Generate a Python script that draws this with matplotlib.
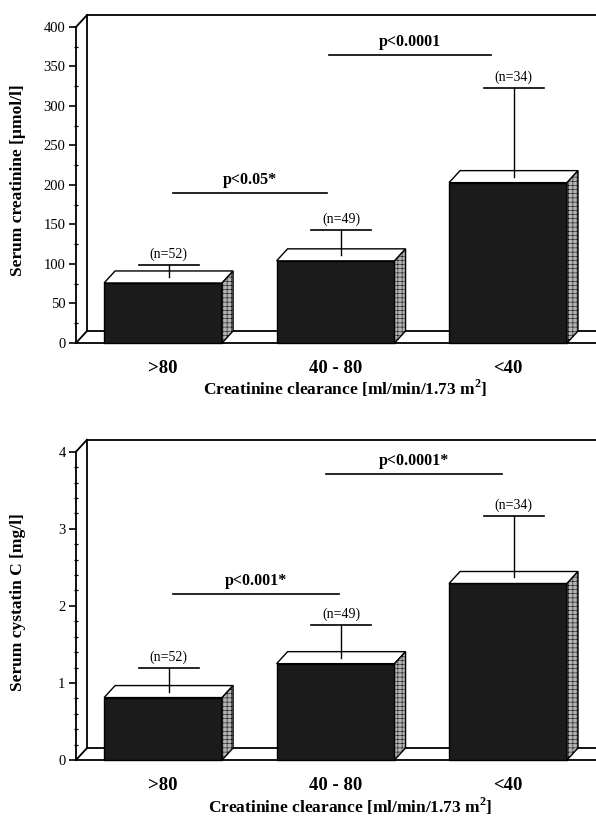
import matplotlib
matplotlib.use("Agg")
import matplotlib.pyplot as plt
from matplotlib.patches import Polygon, Rectangle
from matplotlib.ticker import MultipleLocator

# ---------------------------------------------------------------------------
# Data
# ---------------------------------------------------------------------------

groups = [">80", "40 - 80", "<40"]
n_counts = [52, 49, 34]

creat_mean = [76, 104, 203]
creat_sd = [23, 39, 120]
creat_p_text = ["p<0.05*", "p<0.0001"]
creat_p_y = [190, 365]
creat_p_span = [(0.06, 0.95), (0.96, 1.90)]

cyst_mean = [0.81, 1.25, 2.29]
cyst_sd = [0.38, 0.50, 0.88]
cyst_p_text = ["p<0.001*", "p<0.0001*"]
cyst_p_y = [2.16, 3.71]
cyst_p_span = [(0.06, 1.02), (0.945, 1.965)]

XLABEL = "Creatinine clearance [ml/min/1.73 m$^\\mathbf{2}$]"

plt.rcParams["font.family"] = ["Liberation Serif", "DejaVu Serif"]
plt.rcParams["mathtext.fontset"] = "custom"
plt.rcParams["mathtext.bf"] = "Liberation Serif:bold"
plt.rcParams["hatch.linewidth"] = 0.35

BAR_W = 0.684
CAP = 0.174
X_LEFT, X_RIGHT = -0.505, 2.51


def depth(ax, px=11, py=12):
    """Pixel offset of the 3-D depth, expressed in data units."""
    t = ax.transData
    x0, y0 = t.transform((0, 0))
    return t.inverted().transform((x0 + px, y0 + py))


def draw_panel(ax, means, sds, ymax, major, minor, ylabel, p_text, p_y, p_span, label_y):
    ax.set_xlim(X_LEFT, X_RIGHT)
    ax.set_ylim(0, ymax)
    ddx, ddy = depth(ax)
    kw = dict(color="black", lw=1.3, clip_on=False, zorder=2)

    # box walls and floor
    ax.plot([X_LEFT, X_LEFT + ddx], [ymax, ymax + ddy], **kw)
    ax.plot([X_LEFT + ddx, X_LEFT + ddx], [ddy, ymax + ddy], **kw)
    ax.plot([X_LEFT + ddx, X_RIGHT], [ymax + ddy, ymax + ddy], **kw)
    ax.plot([X_LEFT, X_RIGHT], [0, 0], **kw)
    ax.plot([X_LEFT, X_LEFT + ddx], [0, ddy], **kw)
    ax.plot([X_LEFT + ddx, X_RIGHT], [ddy, ddy], **kw)

    for i, (m, sd, n) in enumerate(zip(means, sds, n_counts)):
        x0, x1 = i - BAR_W / 2, i + BAR_W / 2
        ax.add_patch(Rectangle((x0, 0), BAR_W, m, fc="#1b1b1b", ec="black",
                               lw=1.0, zorder=3, clip_on=False))
        ax.add_patch(Polygon([(x0, m), (x1, m), (x1 + ddx, m + ddy), (x0 + ddx, m + ddy)],
                             closed=True, fc="white", ec="black", lw=1.0, zorder=3,
                             clip_on=False))
        ax.add_patch(Polygon([(x1, 0), (x1 + ddx, ddy), (x1 + ddx, m + ddy), (x1, m)],
                             closed=True, fc="#b4b4b4", ec="black", hatch="++++",
                             lw=1.0, zorder=3, clip_on=False))
        cx = i + ddx / 2
        top = m + sd
        ax.plot([cx, cx], [m + ddy / 2, top], color="black", lw=1.0, zorder=4, clip_on=False)
        ax.plot([cx - CAP, cx + CAP], [top, top], color="black", lw=1.2, zorder=4, clip_on=False)
        ax.annotate(f"(n={n})", (cx, top), xytext=(0, 3), textcoords="offset points",
                    ha="center", va="bottom", fontsize=10, annotation_clip=False)

    for txt, y, (a, b) in zip(p_text, p_y, p_span):
        ax.plot([a, b], [y, y], color="black", lw=1.2, zorder=4, clip_on=False)
        ax.annotate(txt, ((a + b) / 2, y), xytext=(0, 3.5), textcoords="offset points",
                    ha="center", va="bottom", fontsize=11.5, fontweight="bold",
                    annotation_clip=False)

    for s in ["top", "right", "bottom"]:
        ax.spines[s].set_visible(False)
    ax.spines["left"].set_linewidth(1.3)
    ax.patch.set_visible(False)

    ax.yaxis.set_major_locator(MultipleLocator(major))
    ax.yaxis.set_minor_locator(MultipleLocator(minor))
    ax.tick_params(axis="y", which="major", direction="out", length=5, width=1.2,
                   pad=2.5, labelsize=10.5)
    ax.tick_params(axis="y", which="minor", direction="inout", length=3, width=0.9)
    ax.set_xticks(range(len(groups)))
    ax.set_xticklabels(groups, fontsize=13.5, fontweight="bold")
    ax.tick_params(axis="x", length=0, pad=12)

    ax.set_ylabel(ylabel, fontsize=12.5, fontweight="bold")
    ax.yaxis.set_label_coords(-0.096, label_y)
    ax.set_xlabel(XLABEL, fontsize=12.5, fontweight="bold")


fig = plt.figure(figsize=(5.96, 8.19), dpi=100)
ax_top = fig.add_axes([76 / 596, 476 / 819, 520 / 596, 316 / 819])
ax_bot = fig.add_axes([76 / 596, 59 / 819, 520 / 596, 308.3 / 819])

draw_panel(ax_top, creat_mean, creat_sd, 400, 50, 25, "Serum creatinine [\u00b5mol/l]",
           creat_p_text, creat_p_y, creat_p_span, 0.516)
draw_panel(ax_bot, cyst_mean, cyst_sd, 4, 1, 0.2, "Serum cystatin C [mg/l]",
           cyst_p_text, cyst_p_y, cyst_p_span, 0.511)

ax_top.xaxis.set_label_coords(0.517, -0.11)
ax_bot.xaxis.set_label_coords(0.527, -0.115)

fig.savefig("out.png", dpi=100)
